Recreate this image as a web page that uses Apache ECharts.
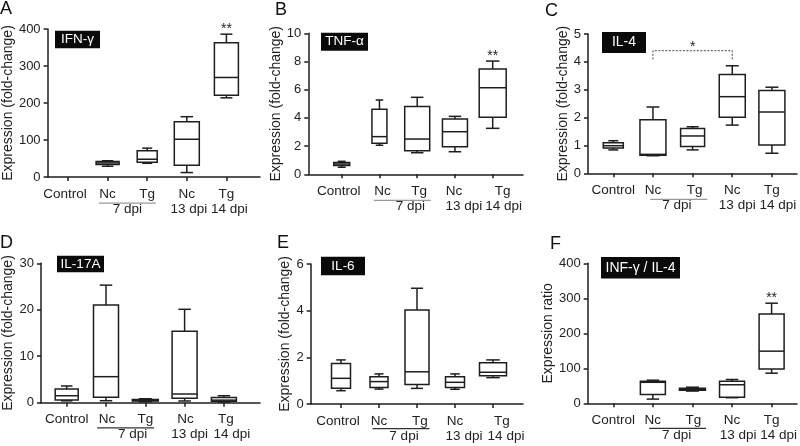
<!DOCTYPE html>
<html><head><meta charset="utf-8">
<script src="https://cdn.jsdelivr.net/npm/echarts@6/dist/echarts.min.js"></script>
<style>html,body{margin:0;padding:0;background:#fff}#c{width:800px;height:446px}</style>
</head><body><div id="c"></div>
<script>
// ---------------- DATA ----------------
const categories = ['Control', 'Nc', 'Tg', 'Nc', 'Tg'];
const dpiLabels = ['', '', '', '', '7 dpi', '', '', '13 dpi', '', '14 dpi', ''];
// each box: [min, Q1, median, Q3, max]; null = no data
const ifnG  = [null, [29, 34, 38, 42, 44], [37, 40, 48, 71, 78], [12, 32, 102, 149, 163], [214, 221, 269, 363, 386]];
const tnfA  = [[0.5, 0.62, 0.73, 0.83, 0.92], [2.06, 2.2, 2.67, 4.61, 5.27], [1.53, 1.67, 2.5, 4.8, 5.46], [1.6, 1.96, 3.02, 3.92, 4.11], [3.26, 4.04, 6.14, 7.47, 8.03]];
const il4   = [[0.84, 0.91, 0.99, 1.1, 1.17], [0.63, 0.65, 0.68, 1.92, 2.38], [0.84, 0.96, 1.34, 1.61, 1.67], [1.73, 2.01, 2.75, 3.55, 3.86], [0.72, 1.02, 2.2, 2.97, 3.09]];
const il17a = [[0.4, 0.58, 1.5, 2.95, 3.6], [0.43, 1.16, 5.6, 21.0, 25.3], [0.2, 0.35, 0.5, 0.7, 0.85], [0.37, 0.94, 1.87, 15.4, 20.1], [0.15, 0.3, 0.55, 1.1, 1.5]];
const il6   = [[0.57, 0.67, 1.1, 1.74, 1.89], [0.64, 0.71, 0.96, 1.17, 1.29], [0.67, 0.84, 1.38, 4.03, 4.96], [0.63, 0.71, 0.93, 1.17, 1.29], [1.13, 1.21, 1.36, 1.77, 1.89]];
const ratio = [null, [12, 25, 60, 63, 66], [35, 37, 40, 43, 46], [16, 17, 53, 63, 68], [86, 98, 149, 255, 286]];

const panelLetters = ['A', 'B', 'C', 'D', 'E', 'F'];
const panelTitles = ['IFN-γ', 'TNF-α', 'IL-4', 'IL-17A', 'IL-6', 'INF-γ / IL-4'];
const yNames = ['Expression (fold-change)', 'Expression (fold-change)', 'Expression (fold-change)', 'Expression (fold-change)', 'Expression (fold-change)', 'Expression ratio'];
const yMax = [400, 10, 5, 30, 6, 400];
const yInterval = [100, 2, 1, 10, 2, 100];
const panelData = [ifnG, tnfA, il4, il17a, il6, ratio];
const significance = [[4, '**'], [4, '**'], null, null, null, [4, '**']];
const il4Bracket = [1, 3, 4.09, 4.4, '*']; // from category, to category, foot value, top value, mark

// ---------------- LAYOUT ----------------
// row1Shift: px shift of category labels; row2Shift: px shift of the "dpi" labels at [7 dpi, 13 dpi, 14 dpi]; lineShift: px shift of 7-dpi rule
const layout = [
  {axisX: 43,    top: 29,    bottom: 177,   c0: 68,    step: 39.6,  xEnd: 260, nameGap: 25, tag: {x: 55, y: 31, w: 45, h: 17, fs: 13.5},  letter: {x: 0, y: 0},   boxW: [24, 23, 20, 25, 24], lineColor: '#999', lineGap: 25.5, row1Shift: [-3, 0, 0, 0, 0],  row2Shift: [0, 2, 3],  lineShift: 0},
  {axisX: 308.3, top: 33.3,  bottom: 174.3, c0: 341.7, step: 37.75, xEnd: 523, nameGap: 17, tag: {x: 321, y: 33, w: 47, h: 17.5, fs: 13.5}, letter: {x: 275, y: 1}, boxW: [16, 15, 25, 25, 27], lineColor: '#999', lineGap: 25.5, row1Shift: [-3, 3, 2, -1, 10], row2Shift: [12, 9, 11], lineShift: 4},
  {axisX: 588,   top: 34,    bottom: 173.3, c0: 613.3, step: 39.65, xEnd: 797, nameGap: 15, tag: {x: 602, y: 32, w: 44, h: 21, fs: 14},  letter: {x: 545, y: 2}, boxW: [20, 26, 24, 26, 26], lineColor: '#999', lineGap: 25.5, row1Shift: [0, 0, 2, 0, 0],  row2Shift: [4, 5, 6],  lineShift: 6},
  {axisX: 41,    top: 263.3, bottom: 402.7, c0: 66.7,  step: 39.3,  xEnd: 260, nameGap: 24, tag: {x: 57, y: 256, w: 47, h: 16, fs: 13.5},  letter: {x: 0, y: 234}, boxW: [23, 25, 26, 25, 25], lineColor: '#333', lineGap: 24.5, row1Shift: [0, 1, 0, 1, 2],  row2Shift: [7, 5, 8],  lineShift: 0},
  {axisX: 310.7, top: 264,   bottom: 404,   c0: 341,   step: 38,    xEnd: 523, nameGap: 18, tag: {x: 321, y: 257, w: 44, h: 18, fs: 13.5}, letter: {x: 277, y: 234}, boxW: [19, 18, 24, 19, 27], lineColor: '#333', lineGap: 24, row1Shift: [-3, 0, 3, 0, 9], row2Shift: [6, 9, 13], lineShift: 3},
  {axisX: 587.7, top: 263.3, bottom: 403.3, c0: 613.3, step: 39.6,  xEnd: 797, nameGap: 23, tag: {x: 601, y: 257, w: 79, h: 21.5, fs: 14}, letter: {x: 550, y: 235}, boxW: [25, 25, 26, 25, 25], lineColor: '#333', lineGap: 24.5, row1Shift: [0, 0, 1, 0, 0],  row2Shift: [4, 6, 7],  lineShift: 5}
];

const INK = '#1e1e1e';
const LW = 1.5;
const FONT = '"Liberation Sans", Arial, sans-serif';
const LABEL_FS = 13.5;

const mctx = document.createElement('canvas').getContext('2d');
function textW(t, fs) { mctx.font = fs + 'px "Liberation Sans"'; return mctx.measureText(t).width; }

// a label shifted horizontally by s px using an invisible spacer token
function shiftedLabel(text, key, s, rich, tokenKey) {
  if (!text) return '';
  if (!s) return '{' + tokenKey + '|' + text + '}';
  rich[key] = {width: 2 * Math.abs(s), fontSize: 1, lineHeight: 1};
  return s > 0 ? '{' + key + '| }{' + tokenKey + '|' + text + '}' : '{' + tokenKey + '|' + text + '}{' + key + '| }';
}

function boxRenderer(L, sig) {
  return function (params, api) {
    const k = api.value(0);
    const ys = [1, 2, 3, 4, 5].map(d => api.coord([k, api.value(d)])[1]);
    const cx = api.coord([k, 0])[0];
    const w = L.boxW[k], hw = w / 2, cw = w / 4;
    const st = {stroke: INK, lineWidth: LW, fill: null};
    const ch = [
      {type: 'rect', shape: {x: cx - hw, y: ys[3], width: w, height: ys[1] - ys[3]}, style: {stroke: INK, lineWidth: LW, fill: 'rgba(0,0,0,0)'}},
      {type: 'line', shape: {x1: cx - hw, y1: ys[2], x2: cx + hw, y2: ys[2]}, style: st},
      {type: 'line', shape: {x1: cx, y1: ys[3], x2: cx, y2: ys[4]}, style: st},
      {type: 'line', shape: {x1: cx - cw, y1: ys[4], x2: cx + cw, y2: ys[4]}, style: st},
      {type: 'line', shape: {x1: cx, y1: ys[1], x2: cx, y2: ys[0]}, style: st},
      {type: 'line', shape: {x1: cx - cw, y1: ys[0], x2: cx + cw, y2: ys[0]}, style: st}
    ];
    if (sig && sig[0] === k) {
      ch.push({type: 'text', x: cx, y: ys[4] - 5, style: {text: sig[1], fill: INK, font: '14px ' + FONT, textAlign: 'center', textVerticalAlign: 'middle'}});
    }
    return {type: 'group', children: ch};
  };
}

const grid = [], xAxis = [], yAxis = [], series = [], title = [];
const axisLineStyle = {color: INK, width: LW};

panelData.forEach((data, i) => {
  const L = layout[i];
  const gFrame = grid.length;
  grid.push({left: L.axisX, top: L.top, width: L.xEnd - L.axisX, height: L.bottom - L.top});
  const gData = grid.length;
  grid.push({left: L.c0 - L.step / 2, top: L.top, width: 5 * L.step, height: L.bottom - L.top});

  xAxis.push({gridIndex: gFrame, type: 'value', min: 0, max: 1, axisLine: {show: true, onZero: false, lineStyle: axisLineStyle}, axisTick: {show: false}, axisLabel: {show: false}, splitLine: {show: false}});
  yAxis.push({gridIndex: gFrame, type: 'value', min: 0, max: yMax[i], interval: yInterval[i],
    axisLine: {show: true, onZero: false, lineStyle: axisLineStyle}, axisTick: {show: true, length: 4, lineStyle: axisLineStyle},
    axisLabel: {fontSize: 13, color: '#222', margin: 7, fontFamily: FONT}, splitLine: {show: false},
    name: yNames[i], nameLocation: 'middle', nameGap: L.nameGap, nameRotate: 90,
    nameTextStyle: {fontSize: 14, color: '#222', fontFamily: FONT}});

  const rich1 = {t: {fontSize: LABEL_FS, color: '#222', fontFamily: FONT, lineHeight: 16}};
  const labels1 = categories.map((c, k) => shiftedLabel(c, 'r' + k, L.row1Shift[k], rich1, 't'));
  const xData = xAxis.length;
  xAxis.push({gridIndex: gData, type: 'category', data: categories, boundaryGap: true, position: 'bottom',
    axisLine: {show: false}, axisTick: {show: true, alignWithLabel: true, length: 4, lineStyle: axisLineStyle},
    axisLabel: {interval: 0, margin: 9, formatter: (v, k) => labels1[k], rich: rich1}, splitLine: {show: false}});

  const rich2 = {t: {fontSize: LABEL_FS, color: '#222', fontFamily: FONT, lineHeight: 16}};
  const dpiIdx = {4: 0, 7: 1, 9: 2};
  const labels2 = dpiLabels.map((d, k) => shiftedLabel(d, 's' + k, dpiIdx[k] !== undefined ? L.row2Shift[dpiIdx[k]] : 0, rich2, 't'));
  xAxis.push({gridIndex: gData, type: 'category', data: dpiLabels, boundaryGap: false, position: 'bottom',
    axisLine: {show: false}, axisTick: {show: false}, splitLine: {show: false},
    axisLabel: {interval: 0, margin: 24, formatter: (v, k) => labels2[k], rich: rich2}});

  const rich3 = {l: {width: 57, height: 1.3, lineHeight: 1.3, fontSize: 1, backgroundColor: L.lineColor}};
  const labels3 = dpiLabels.map((d, k) => d === '7 dpi' ? shiftedLabel(' ', 'q', L.lineShift, rich3, 'l') : '');
  xAxis.push({gridIndex: gData, type: 'category', data: dpiLabels, boundaryGap: false, position: 'bottom',
    axisLine: {show: false}, axisTick: {show: false}, splitLine: {show: false},
    axisLabel: {interval: 0, margin: L.lineGap, formatter: (v, k) => labels3[k], rich: rich3}});

  const yData = yAxis.length;
  yAxis.push({gridIndex: gData, type: 'value', min: 0, max: yMax[i], interval: yInterval[i], show: false});

  series.push({type: 'custom', xAxisIndex: xData, yAxisIndex: yData, clip: false,
    encode: {x: 0, y: [1, 2, 3, 4, 5]},
    data: data.map((d, k) => d ? [k].concat(d) : null).filter(Boolean),
    renderItem: boxRenderer(L, significance[i])});

  if (i === 2) {
    series.push({type: 'custom', xAxisIndex: xData, yAxisIndex: yData, clip: false,
      encode: {x: [0, 1], y: [2, 3]},
      data: [il4Bracket.slice(0, 4)],
      renderItem: function (params, api) {
        const a = api.value(0), b = api.value(1), foot = api.value(2), top = api.value(3);
        const p1 = api.coord([a, foot]), p2 = api.coord([a, top]), p3 = api.coord([b, top]), p4 = api.coord([b, foot]);
        return {type: 'group', children: [
          {type: 'polyline', shape: {points: [p1, p2, p3, p4]}, style: {stroke: '#444', lineWidth: 1, lineDash: [2, 1.5], fill: null}},
          {type: 'text', x: (p2[0] + p3[0]) / 2, y: p2[1] - 4, style: {text: il4Bracket[4], fill: INK, font: '14px ' + FONT, textAlign: 'center', textVerticalAlign: 'middle'}}
        ]};
      }});
  }

  title.push({text: panelLetters[i], left: L.letter.x, top: L.letter.y, padding: 0,
    textStyle: {fontSize: 18, fontWeight: 'normal', color: '#111', fontFamily: FONT, lineHeight: 18}});
  const T = L.tag, tw = textW(panelTitles[i], T.fs);
  const padH = Math.max(0, (T.w - tw) / 2), padV = Math.max(0, (T.h - T.fs) / 2);
  title.push({text: panelTitles[i], left: T.x, top: T.y, padding: [padV, padH, padV, padH], backgroundColor: '#0a0a0a',
    textStyle: {fontSize: T.fs, fontWeight: 'normal', color: '#fff', fontFamily: FONT, lineHeight: T.fs}});
});

const chart = echarts.init(document.getElementById('c'), null, {renderer: 'canvas'});
chart.setOption({animation: false, backgroundColor: '#fff', title, grid, xAxis, yAxis, series});
</script></body></html>
